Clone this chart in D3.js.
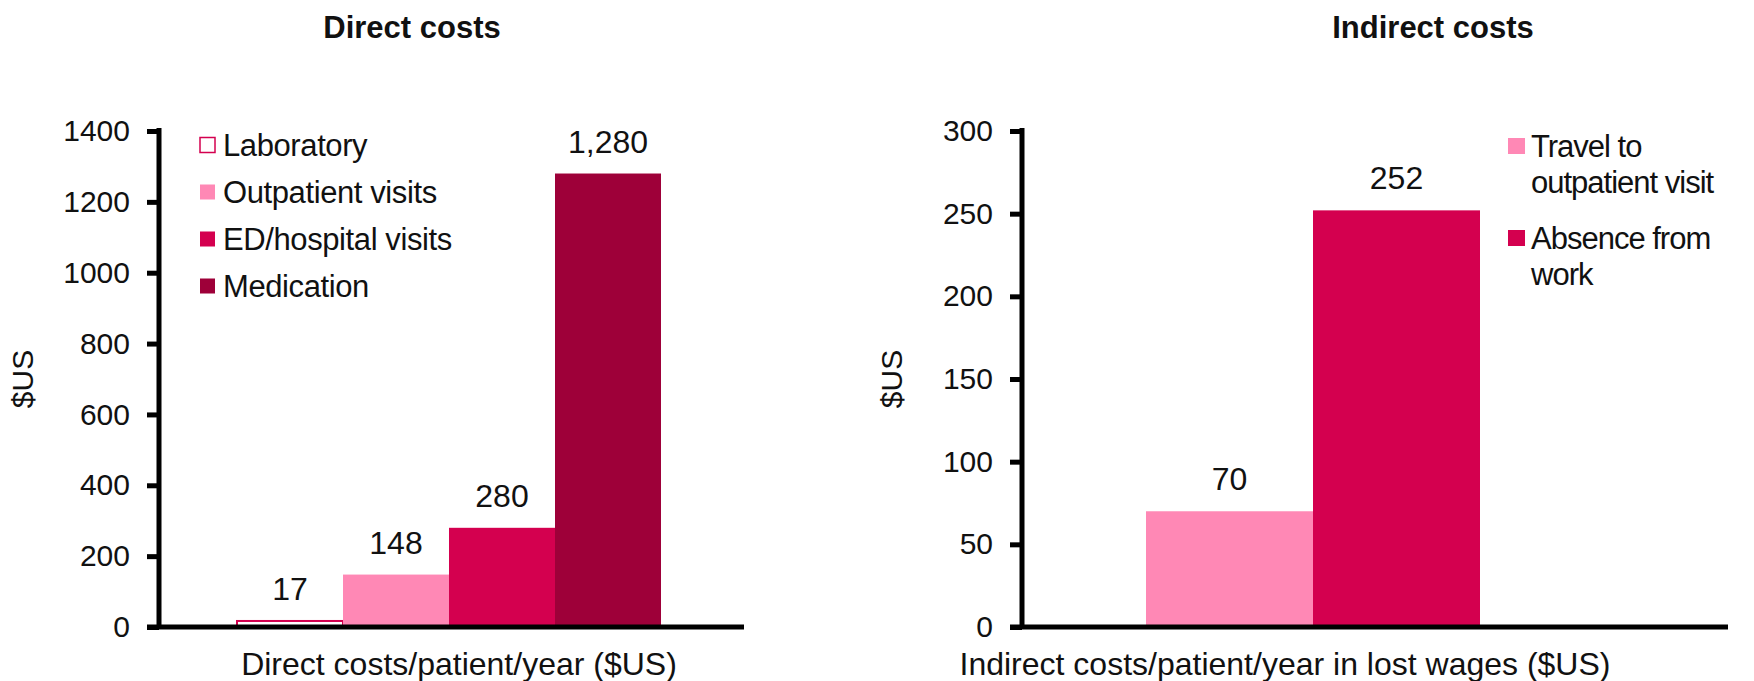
<!DOCTYPE html>
<html>
<head>
<meta charset="utf-8">
<script src="https://cdn.jsdelivr.net/npm/d3@7"></script>
<style>
  body { margin: 0; background: #fff; }
  text { font-family: "Liberation Sans", Arial, sans-serif; fill: #111; }
</style>
</head>
<body>
<div id="chart"></div>
<script>
// data
var directCats = ["Laboratory", "Outpatient visits", "ED/hospital visits", "Medication"];
var directVals = [17, 148, 280, 1280];
var directTicks = [0, 200, 400, 600, 800, 1000, 1200, 1400];

var indirectCats = ["Travel to outpatient visit", "Absence from work"];
var indirectVals = [70, 252];
var indirectTicks = [0, 50, 100, 150, 200, 250, 300];
// legend text split into lines like the original
var indirectLegend = [["Travel to", "outpatient visit"], ["Absence from", "work"]];

var colors = {
  "Laboratory": "#fff",
  "Outpatient visits": "#ff88b5",
  "ED/hospital visits": "#d4004f",
  "Medication": "#9e0039",
  "Travel to outpatient visit": "#ff88b5",
  "Absence from work": "#d4004f"
};
var red = "#d4004f";

var svgWidth = 1754, svgHeight = 681;
var svg = d3.select("#chart").append("svg")
  .attr("width", svgWidth)
  .attr("height", svgHeight);

var fmt = d3.format(",");
var top0 = 131, base = 627;

// one panel = axis + bars + labels
function drawPanel(opt) {
  var g = svg.append("g").attr("transform", `translate(${opt.axisX}, 0)`);

  var y = d3.scaleLinear().domain([0, opt.max]).range([base, top0]);
  var x = d3.scaleBand().domain(opt.cats).range(opt.barRange).padding(0);

  // bars
  g.selectAll("rect.bar")
    .data(opt.cats)
    .enter()
    .append("rect")
    .attr("class", "bar")
    .attr("x", d => x(d))
    .attr("width", x.bandwidth())
    .attr("y", (d, i) => y(opt.vals[i]))
    .attr("height", (d, i) => base - y(opt.vals[i]))
    .attr("fill", d => colors[d])
    .attr("stroke", d => colors[d] == "#fff" ? red : "none")
    .attr("stroke-width", 2);

  // value labels above bars
  g.selectAll("text.val")
    .data(opt.cats)
    .enter()
    .append("text")
    .attr("class", "val")
    .attr("x", d => x(d) + x.bandwidth() / 2)
    .attr("y", (d, i) => y(opt.vals[i]) - 21)
    .attr("text-anchor", "middle")
    .style("font-size", "32px")
    .text((d, i) => fmt(opt.vals[i]));

  // y axis
  var yAxis = d3.axisLeft(y).tickValues(opt.ticks).tickFormat(d3.format("d"))
    .tickSize(12).tickSizeOuter(0).tickPadding(17);
  var ax = g.append("g").call(yAxis);
  ax.select(".domain").attr("stroke", "#000").attr("stroke-width", 5)
    .attr("d", `M0,${top0 - 3}V${base}`);
  ax.selectAll(".tick line").attr("stroke", "#000").attr("stroke-width", 5);
  ax.selectAll(".tick text").style("font-size", "30px").style("font-family", "Liberation Sans, Arial, sans-serif").attr("fill", "#111");

  // baseline
  g.append("line")
    .attr("x1", -12).attr("x2", opt.baseEnd)
    .attr("y1", base).attr("y2", base)
    .attr("stroke", "#000").attr("stroke-width", 5);

  // y label
  g.append("text")
    .attr("transform", `translate(${opt.yLabelX}, ${(top0 + base) / 2}) rotate(-90)`)
    .attr("text-anchor", "middle")
    .style("font-size", "30px")
    .text("$US");

  // x label
  svg.append("text")
    .attr("x", opt.xLabelX).attr("y", 675)
    .attr("text-anchor", "middle")
    .style("font-size", "32px")
    .text(opt.xLabel);

  // title
  svg.append("text")
    .attr("x", opt.titleX).attr("y", 38)
    .attr("text-anchor", "middle")
    .style("font-size", "31px")
    .style("font-weight", "bold")
    .text(opt.title);
}

drawPanel({
  axisX: 159, max: 1400, cats: directCats, vals: directVals, ticks: directTicks,
  barRange: [78, 502], baseEnd: 585, yLabelX: -126,
  xLabel: "Direct costs/patient/year ($US)", xLabelX: 459,
  title: "Direct costs", titleX: 412
});

drawPanel({
  axisX: 1022, max: 300, cats: indirectCats, vals: indirectVals, ticks: indirectTicks,
  barRange: [124, 458], baseEnd: 706, yLabelX: -120,
  xLabel: "Indirect costs/patient/year in lost wages ($US)", xLabelX: 1285,
  title: "Indirect costs", titleX: 1433
});

// left legend
var leg1 = svg.append("g");
var rows1 = leg1.selectAll("g").data(directCats).enter().append("g")
  .attr("transform", (d, i) => `translate(200, ${145 + i * 47})`);
rows1.append("rect")
  .attr("x", 0).attr("y", -7.5).attr("width", 15).attr("height", 15)
  .attr("fill", d => colors[d])
  .attr("stroke", d => colors[d] == "#fff" ? red : "none")
  .attr("stroke-width", 1.5);
rows1.append("text")
  .attr("x", 23).attr("y", 11)
  .style("font-size", "31px")
  .style("letter-spacing", "-0.4px")
  .text(d => d);

// right legend
var leg2 = svg.append("g");
var rows2 = leg2.selectAll("g").data(indirectCats).enter().append("g")
  .attr("transform", (d, i) => `translate(1508, ${146 + i * 92})`);
rows2.append("rect")
  .attr("x", 0).attr("y", -8).attr("width", 17).attr("height", 16)
  .attr("fill", d => colors[d]);
rows2.append("text")
  .attr("x", 23).attr("y", 11)
  .style("font-size", "31px")
  .style("letter-spacing", "-1px")
  .selectAll("tspan")
  .data((d, i) => indirectLegend[i])
  .enter().append("tspan")
  .attr("x", 23)
  .attr("dy", (d, j) => j == 0 ? 0 : 36)
  .text(d => d);
</script>
</body>
</html>
